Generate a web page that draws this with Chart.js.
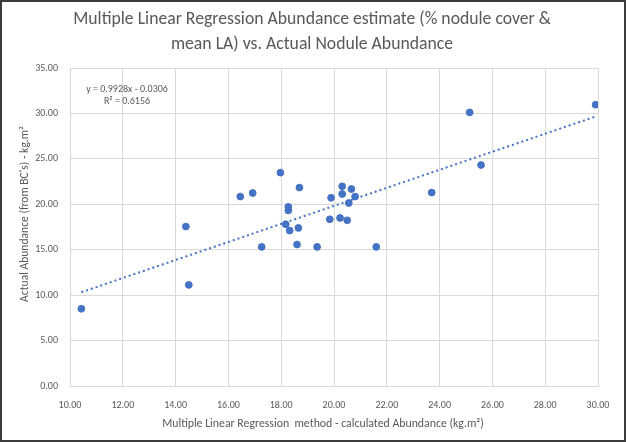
<!DOCTYPE html>
<html>
<head>
<meta charset="utf-8">
<script src="https://cdn.jsdelivr.net/npm/chart.js@4.4.0/dist/chart.umd.min.js"></script>
<style>
  html, body { margin: 0; padding: 0; background: #ffffff; }
  #wrap { position: relative; width: 626px; height: 442px; }
  canvas { display: block; }
</style>
</head>
<body>
<div id="wrap"><canvas id="c" width="626" height="442"></canvas></div>
<script>
// Data
const calculatedAbundance = [10.43, 14.39, 14.50, 16.45, 16.92, 17.26, 17.97, 18.17, 18.27, 18.27,
  18.32, 18.60, 18.65, 18.69, 19.36, 19.84, 19.89, 20.23, 20.31, 20.31,
  20.50, 20.56, 20.66, 20.80, 21.60, 23.70, 25.14, 25.57, 29.91];
const actualAbundance = [8.50, 17.55, 11.13, 20.85, 21.24, 15.31, 23.48, 17.80, 19.72, 19.32,
  17.11, 15.57, 17.40, 21.84, 15.31, 18.35, 20.72, 18.50, 21.98, 21.13,
  18.24, 20.14, 21.68, 20.85, 15.31, 21.29, 30.11, 24.32, 30.96];
const trendSlope = 0.9928;
const trendIntercept = -0.0306;
const trendLabels = ["y = 0.9928x - 0.0306", "R² = 0.6156"];
const titleLines = ["Multiple Linear Regression Abundance estimate (% nodule cover &", "mean LA) vs. Actual Nodule Abundance"];
const xAxisTitle = "Multiple Linear Regression  method - calculated Abundance (kg.m²)";
const yAxisTitle = "Actual Abundance (from BC's) - kg.m²";

const points = calculatedAbundance.map((x, i) => ({ x: x, y: actualAbundance[i] }));
const xMinData = Math.min(...calculatedAbundance);
const xMaxData = Math.max(...calculatedAbundance);
const trendPoints = [
  { x: xMinData, y: trendSlope * xMinData + trendIntercept },
  { x: xMaxData, y: trendSlope * xMaxData + trendIntercept }
];

const FONT = "Carlito, Calibri, Lato, 'Open Sans', sans-serif";
const GRAY = '#595959';
const GRID = '#d9d9d9';
const BLUE = '#4472C4';

const framePlugin = {
  id: 'frame',
  afterDraw(chart) {
    const ctx = chart.ctx;
    ctx.save();
    ctx.strokeStyle = '#3c3c3c';
    ctx.lineWidth = 2;
    ctx.strokeRect(1, 1, chart.width - 2, chart.height - 2);
    ctx.restore();
  }
};

function fitFont(ctx, text, width, base) {
  ctx.font = base + "px " + FONT;
  const w = ctx.measureText(text).width;
  return base * width / w;
}

const textPlugin = {
  id: 'texts',
  afterDatasetsDraw(chart) {
    const ctx = chart.ctx;
    const a = chart.chartArea;
    ctx.save();
    ctx.fillStyle = GRAY;
    ctx.textAlign = 'center';
    ctx.textBaseline = 'middle';
    // chart title
    const ts = fitFont(ctx, titleLines[0], 478, 16);
    ctx.font = ts + "px " + FONT;
    ctx.fillText(titleLines[0], 312, 20);
    ctx.fillText(titleLines[1], 312, 45);
    // trendline equation
    ctx.font = "10px " + FONT;
    ctx.fillText(trendLabels[0], a.left + 57, a.top + 21);
    ctx.fillText(trendLabels[1], a.left + 57, a.top + 33);
    // axis titles
    ctx.font = fitFont(ctx, xAxisTitle, 322, 11) + "px " + FONT;
    ctx.fillText(xAxisTitle, 323, a.bottom + 38);
    const ys = fitFont(ctx, yAxisTitle, 176, 11);
    ctx.translate(25, 214);
    ctx.rotate(-Math.PI / 2);
    ctx.font = ys + "px " + FONT;
    ctx.fillText(yAxisTitle, 0, 0);
    ctx.restore();
  }
};

new Chart(document.getElementById('c'), {
  type: 'scatter',
  data: {
    datasets: [
      {
        label: 'Abundance',
        data: points,
        backgroundColor: BLUE,
        borderColor: BLUE,
        pointRadius: 3.4,
        pointHoverRadius: 3.4,
        order: 1
      },
      {
        label: 'Linear trend',
        type: 'line',
        data: trendPoints,
        borderColor: BLUE,
        borderWidth: 2,
        borderDash: [2, 3],
        pointRadius: 0,
        fill: false,
        order: 2
      }
    ]
  },
  options: {
    responsive: false,
    animation: false,
    devicePixelRatio: 1,
    layout: { padding: { left: 0, right: 28, top: 68, bottom: 0 } },
    plugins: {
      legend: { display: false },
      tooltip: { enabled: false },
      title: { display: false }
    },
    scales: {
      x: {
        type: 'linear',
        min: 10, max: 30,
        afterFit(scale) { scale.height = 56; },
        grid: { color: GRID, lineWidth: 1, drawTicks: false },
        border: { color: GRID, width: 1 },
        ticks: {
          stepSize: 2, padding: 13, color: GRAY,
          font: { family: FONT, size: 10 },
          callback: v => Number(v).toFixed(2)
        },
        title: { display: false }
      },
      y: {
        type: 'linear',
        min: 0, max: 35,
        afterFit(scale) { scale.width = 70; },
        grid: { color: GRID, lineWidth: 1, drawTicks: false },
        border: { color: GRID, width: 1 },
        ticks: {
          stepSize: 5, padding: 12, color: GRAY,
          font: { family: FONT, size: 10 },
          callback: v => Number(v).toFixed(2)
        },
        title: { display: false }
      }
    }
  },
  plugins: [framePlugin, textPlugin]
});
</script>
</body>
</html>
